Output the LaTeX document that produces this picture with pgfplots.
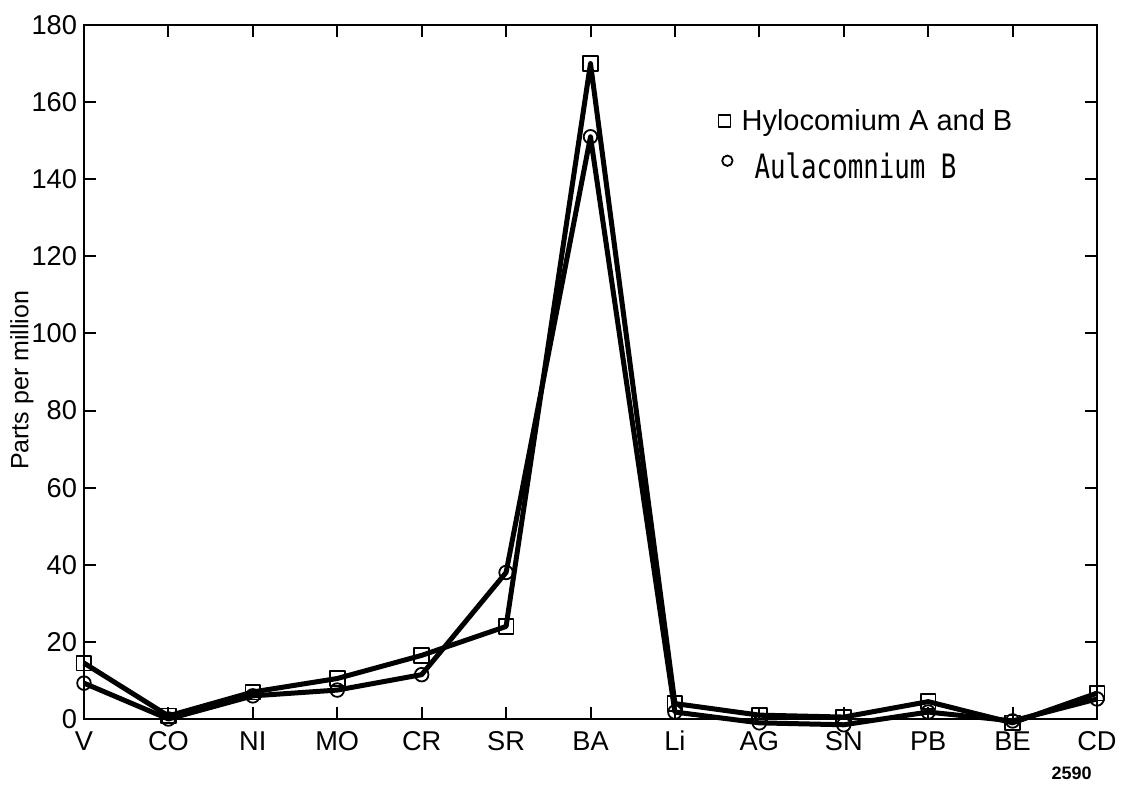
\documentclass[border=0pt]{standalone}
\usepackage{fontspec}
\setmainfont{Liberation Sans}
\newfontfamily\monofont{DejaVu Sans Mono}
\usepackage{graphicx}
\usepackage{pgfplots}
\pgfplotsset{compat=1.18}

\begin{document}
\begin{tikzpicture}
\useasboundingbox (-42pt,-34pt) rectangle (518.5pt,359.5pt);
\begin{axis}[
  at={(0,0)}, anchor=south west,
  scale only axis, width=506.5pt, height=347pt,
  xmin=0, xmax=12, ymin=0, ymax=180,
  clip=false,
  axis line style={line width=1.2pt},
  xtick={0,...,12},
  xticklabels={V,CO,NI,MO,CR,SR,BA,Li,AG,SN,PB,BE,CD},
  ytick={0,20,...,180},
  tick align=inside, major tick length=6pt,
  tick style={line width=1pt, black},
  xtick pos=both, ytick pos=both, xticklabel pos=left, yticklabel pos=left,
  ticklabel style={font=\fontsize{13.6}{16}\selectfont},
  xticklabel style={text height=10pt, text depth=0pt, yshift=-2.2pt},
  /pgf/number format/assume math mode=true,
  legend cell align=left,
  legend style={draw=none, fill=none, at={(rel axis cs:0.626,0.885)}, anchor=north west,
    font=\fontsize{14.5}{17}\selectfont, row sep=6pt, inner sep=0pt},
]
% Hylocomium A and B
\addplot[black, line width=2.5pt, line join=round, mark=square, mark size=3.7pt,
  mark options={line width=0.9pt, solid},
  legend image code/.code={\draw[black, line width=0.8pt, mark size=3pt] plot[only marks, mark=square] coordinates {(0.15cm,0cm)};}]
  coordinates {(0,14.5) (1,0.8) (2,7) (3,10.5) (4,16.5) (5,24) (6,170)
               (7,4) (8,1) (9,0.5) (10,4.5) (11,-1) (12,6.7)};
\addlegendentry{\hspace{2.5pt}Hylocomium A and B}
% Aulacomnium B
\addplot[black, line width=2.5pt, line join=round, mark=o, mark size=3.4pt,
  mark options={line width=0.9pt, solid},
  legend image code/.code={\draw[black, line width=0.8pt, mark size=2.6pt] plot[only marks, mark=o] coordinates {(0.2cm,0.12cm)};}]
  coordinates {(0,9.3) (1,0) (2,6) (3,7.5) (4,11.5) (5,38) (6,151)
               (7,1.8) (8,-1) (9,-1.5) (10,1.8) (11,-0.5) (12,5.2)};
\addlegendentry{\hspace{9pt}\scalebox{1}[1.3]{\monofont\fontsize{12.9}{15}\selectfont Aulacomnium B}}
\node[rotate=90, font=\fontsize{12.5}{14}\selectfont] at (rel axis cs:-0.0612,0.488) {Parts per million};
\node[font=\fontsize{9}{10}\selectfont\bfseries] at (rel axis cs:0.975,-0.078) {2590};
\end{axis}
\end{tikzpicture}
\end{document}
